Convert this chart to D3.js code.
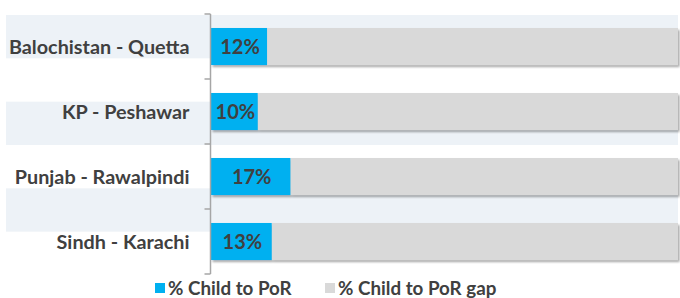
<!DOCTYPE html>
<html>
<head>
<meta charset="utf-8">
<script src="https://cdn.jsdelivr.net/npm/d3@7"></script>
<style>
  body { margin: 0; background: #fff; }
  text { font-family: Lato, "Open Sans", sans-serif; font-weight: 700; fill: #404040; }
</style>
</head>
<body>
<script>
// chart values
var regions = ["Balochistan - Quetta", "KP - Peshawar", "Punjab - Rawalpindi", "Sindh - Karachi"];
var childToPoR = [0.12, 0.10, 0.17, 0.13];
var seriesNames = ["% Child to PoR", "% Child to PoR gap"];
var seriesColors = ["#00b0f0", "#d9d9d9"];

var W = 680, H = 298;
var margin = {top: 14, right: 2, bottom: 24, left: 211};

var svg = d3.select("body").append("svg")
    .attr("width", W)
    .attr("height", H);

// drop shadow for the bars
var defs = svg.append("defs");
defs.append("filter")
    .attr("id", "shadow")
    .attr("x", "-5%").attr("y", "-20%")
    .attr("width", "110%").attr("height", "150%")
  .append("feDropShadow")
    .attr("dx", 1.5).attr("dy", 2)
    .attr("stdDeviation", 1.2)
    .attr("flood-color", "#000")
    .attr("flood-opacity", 0.35);

var x = d3.scaleLinear().domain([0, 1]).range([margin.left, W - margin.right]);
var y = d3.scaleBand().domain(regions).range([margin.top, H - margin.bottom]).paddingInner(0.43).paddingOuter(0.215);
var yAxisBand = d3.scaleBand().domain(regions).range([margin.top, H - margin.bottom]);

// alternating background stripes (plot split in 6)
var stripeH = (H - margin.bottom - margin.top) / 6;
svg.append("g").selectAll("rect")
    .data([0, 2, 4])
  .join("rect")
    .attr("x", 6)
    .attr("y", d => margin.top + 1 + d * stripeH)
    .attr("width", W - 8)
    .attr("height", stripeH)
    .attr("fill", "#edf2f7");

// stacked bars
var rows = regions.map((r, i) => ({region: r, child: childToPoR[i], gap: 1 - childToPoR[i]}));

var bars = svg.append("g").attr("filter", "url(#shadow)");
bars.selectAll("rect.gap")
    .data(rows)
  .join("rect")
    .attr("class", "gap")
    .attr("x", d => x(d.child))
    .attr("y", d => y(d.region))
    .attr("width", d => x(1) - x(d.child))
    .attr("height", y.bandwidth())
    .attr("fill", seriesColors[1]);
bars.selectAll("rect.child")
    .data(rows)
  .join("rect")
    .attr("class", "child")
    .attr("x", x(0))
    .attr("y", d => y(d.region))
    .attr("width", d => x(d.child) - x(0))
    .attr("height", y.bandwidth())
    .attr("fill", seriesColors[0]);

// value labels
svg.append("g").selectAll("text")
    .data(rows)
  .join("text")
    .attr("x", d => (x(0) + x(d.child)) / 2 + 1)
    .attr("y", d => y(d.region) + y.bandwidth() / 2)
    .attr("dy", "0.36em")
    .attr("text-anchor", "middle")
    .style("font-size", "20px")
    .text(d => Math.round(d.child * 100) + "%");

// category axis
var axis = svg.append("g")
    .attr("transform", "translate(" + (margin.left - 0.5) + ",0)");
axis.append("line")
    .attr("x1", 0).attr("x2", 0)
    .attr("y1", margin.top).attr("y2", H - margin.bottom)
    .attr("stroke", "#a6a6a6").attr("stroke-width", 1.5);
axis.selectAll("line.tick")
    .data(regions.concat([null]))
  .join("line")
    .attr("class", "tick")
    .attr("x1", -6).attr("x2", 0)
    .attr("y1", (d, i) => margin.top + i * yAxisBand.step())
    .attr("y2", (d, i) => margin.top + i * yAxisBand.step())
    .attr("stroke", "#a6a6a6").attr("stroke-width", 1.5);
axis.selectAll("text")
    .data(regions)
  .join("text")
    .attr("x", -21)
    .attr("y", d => yAxisBand(d) + yAxisBand.bandwidth() / 2)
    .attr("dy", "0.36em")
    .attr("text-anchor", "end")
    .style("font-size", "19.8px")
    .text(d => d);

// legend
var legendX = [155, 325];
var legend = svg.append("g").selectAll("g")
    .data(seriesNames)
  .join("g")
    .attr("transform", (d, i) => "translate(" + legendX[i] + "," + 283 + ")");
legend.append("rect")
    .attr("width", 10).attr("height", 10)
    .attr("fill", (d, i) => seriesColors[i]);
legend.append("text")
    .attr("x", 13)
    .attr("y", 5)
    .attr("dy", "0.36em")
    .style("font-size", "18.8px")
    .text(d => d);
</script>
</body>
</html>
